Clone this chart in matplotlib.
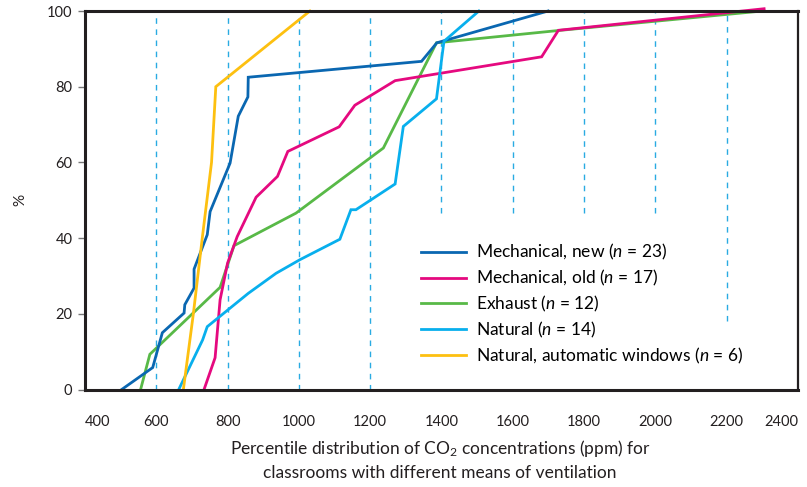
import matplotlib
matplotlib.use("Agg")
import matplotlib.pyplot as plt

plt.rcParams["font.family"] = ["Lato", "DejaVu Sans"]
plt.rcParams["mathtext.fontset"] = "custom"
plt.rcParams["mathtext.rm"] = "Lato"
plt.rcParams["mathtext.it"] = "Lato:italic"

# CO2 concentration (ppm) at each percentile
mech_new_x = [503, 590, 617, 678, 680, 706, 706, 743, 751, 807, 830, 857, 858, 1344, 1387, 1699]
mech_new_y = [0, 5.8, 15.0, 20.2, 22.4, 26.8, 31.8, 40.9, 47.0, 59.8, 72.2, 77.3, 82.5, 86.7, 91.6, 100]

mech_old_x = [734, 765, 779, 800, 827, 880, 940, 969, 1113, 1157, 1270, 1681, 1728, 2305]
mech_old_y = [0, 8.4, 23.7, 33.4, 40.4, 50.8, 56.3, 62.9, 69.4, 75.1, 81.6, 87.9, 94.9, 100.6]

exhaust_x = [556, 582, 779, 818, 992, 1237, 1386, 1723, 2300]
exhaust_y = [0, 9.3, 27.0, 38.0, 46.6, 63.8, 91.6, 94.8, 100]

natural_x = [663, 730, 743, 858, 936, 1003, 1115, 1146, 1160, 1270, 1293, 1386, 1407, 1505]
natural_y = [0, 13.1, 16.6, 25.4, 30.7, 34.3, 39.7, 47.5, 47.5, 54.3, 69.5, 76.8, 92.0, 100]

auto_x = [676, 704, 729, 755, 767, 1031]
auto_y = [0, 20, 40, 60, 80, 100]

labels = [
    r"Mechanical, new ($\it{n}$ = 23)",
    r"Mechanical, old ($\it{n}$ = 17)",
    r"Exhaust ($\it{n}$ = 12)",
    r"Natural ($\it{n}$ = 14)",
    r"Natural, automatic windows ($\it{n}$ = 6)",
]
colors = ["#0a67b1", "#e5097f", "#58b947", "#08afed", "#fdc010"]

grid_x = [600, 800, 1000, 1200, 1400, 1600, 1800, 2000, 2200]
grid_bottom = [0, 0, 0, 0, 0.467, 0.467, 0.467, 0.467, 0.18]

fig = plt.figure(figsize=(8.07, 4.87), dpi=100)
ax = fig.add_axes([0.1053, 0.2002, 0.8835, 0.7772])

for gx, gb in zip(grid_x, grid_bottom):
    ax.axvline(gx, ymin=gb, ymax=1, color="#29abe2", lw=1.0,
               linestyle=(0, (4, 4)), zorder=1)

series = [
    (mech_new_x, mech_new_y, 3),
    (mech_old_x, mech_old_y, 3),
    (exhaust_x, exhaust_y, 2),
    (natural_x, natural_y, 4),
    (auto_x, auto_y, 4),
]
handles = []
for (xs, ys, z), lab, c in zip(series, labels, colors):
    h, = ax.plot(xs, ys, color=c, lw=2.0, label=lab, zorder=z, clip_on=False,
                 solid_joinstyle="miter")
    handles.append(h)

ax.set_xlim(400, 2400)
ax.set_ylim(0, 100)

for side in ["left", "top", "bottom"]:
    ax.spines[side].set_linewidth(2.2)
    ax.spines[side].set_color("#231f20")
ax.spines["right"].set_linewidth(1.6)
ax.spines["right"].set_color("#231f20")
for s in ax.spines.values():
    s.set_zorder(5)

ax.set_yticks([0, 20, 40, 60, 80, 100])
ax.tick_params(axis="y", length=5, width=1, color="#777777", pad=4,
               labelsize=10.5, labelcolor="#231f20")

xt = list(range(400, 2401, 200))
ax.set_xticks(xt)
ax.set_xticklabels([str(v) for v in xt])
ax.tick_params(axis="x", length=0, pad=18, labelsize=10.5, labelcolor="#231f20")
xl = ax.get_xticklabels()
xl[0].set_ha("left")
xl[-1].set_ha("right")
ax.set_xticks([400, 2400], minor=True)
ax.tick_params(axis="x", which="minor", length=6, width=1, color="#231f20")

ax.set_ylabel("%", fontsize=11, color="#231f20", labelpad=14)
ax.set_xlabel("Percentile distribution of CO$_2$ concentrations (ppm) for\n"
              "classrooms with different means of ventilation",
              fontsize=12.5, color="#231f20", linespacing=1.45)
ax.xaxis.set_label_coords(0.498, -0.128, transform=ax.transAxes)
ax.xaxis.label.set_va("top")

ax.legend(handles=handles, loc="upper left", bbox_to_anchor=(0.471, 0.389),
          frameon=False, fontsize=12.5, handlelength=2.6, handletextpad=0.58,
          labelspacing=0.33, borderpad=0, borderaxespad=0)

fig.savefig("out.png", dpi=100)
